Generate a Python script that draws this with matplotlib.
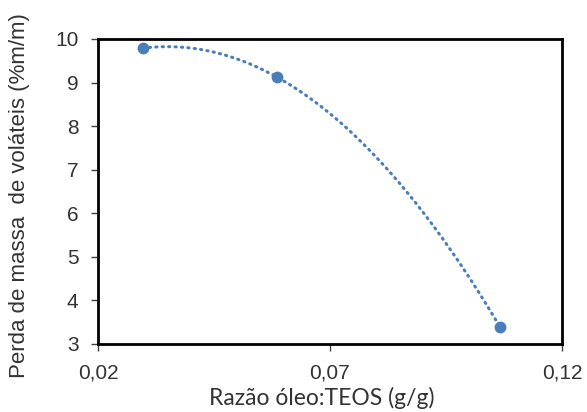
import numpy as np
import matplotlib
matplotlib.use("Agg")
import matplotlib.pyplot as plt

ratio = [0.0297, 0.0585, 0.1067]
loss = [9.79, 9.13, 3.38]
xticks = [0.02, 0.07, 0.12]
xticklabels = ["0,02", "0,07", "0,12"]
yticks = [3, 4, 5, 6, 7, 8, 9, 10]

color = "#4a7ebb"
W, H = 587, 412
L, R, T, B = 98, 562, 39, 344

fig = plt.figure(figsize=(W/100, H/100), dpi=100)
ax = fig.add_axes([L/W, 1-B/H, (R-L)/W, (B-T)/H])

# polynomial (order 2) trendline, dotted, as in the reference
coef = np.polyfit(ratio, loss, 2)
xs = np.linspace(min(ratio), max(ratio), 200)
ax.plot(xs, np.polyval(coef, xs), color=color, lw=2.2,
        linestyle=(0, (0.4, 1.7)), dash_capstyle="round", zorder=2)
ax.plot(ratio, loss, "o", color=color, ms=7.5, zorder=3)

ax.set_xlim(0.02, 0.12)
ax.set_ylim(3, 10)
ax.set_xticks(xticks)
ax.set_xticklabels(xticklabels)
ax.set_yticks(yticks)
for s in ax.spines.values():
    s.set_linewidth(2)
    s.set_color("black")
ax.tick_params(direction="out", length=5, width=1, labelsize=15,
               colors="#404040", labelcolor="#333333")
ax.tick_params(axis="x", pad=9)
ax.tick_params(axis="y", pad=9)
for lab in ax.get_xticklabels() + ax.get_yticklabels():
    lab.set_family("Liberation Sans")

fig.text(322/W, 1-398/H, "Razão óleo:TEOS (g/g)", fontsize=16.5, family="Lato",
         color="#333333", ha="center", va="center")
fig.text(20/W, 1-196/H, "Perda de massa  de voláteis (%m/m)", fontsize=16,
         family="Liberation Sans", color="#333333", ha="center", va="center",
         rotation=90)
fig.savefig("out.png", dpi=100)
